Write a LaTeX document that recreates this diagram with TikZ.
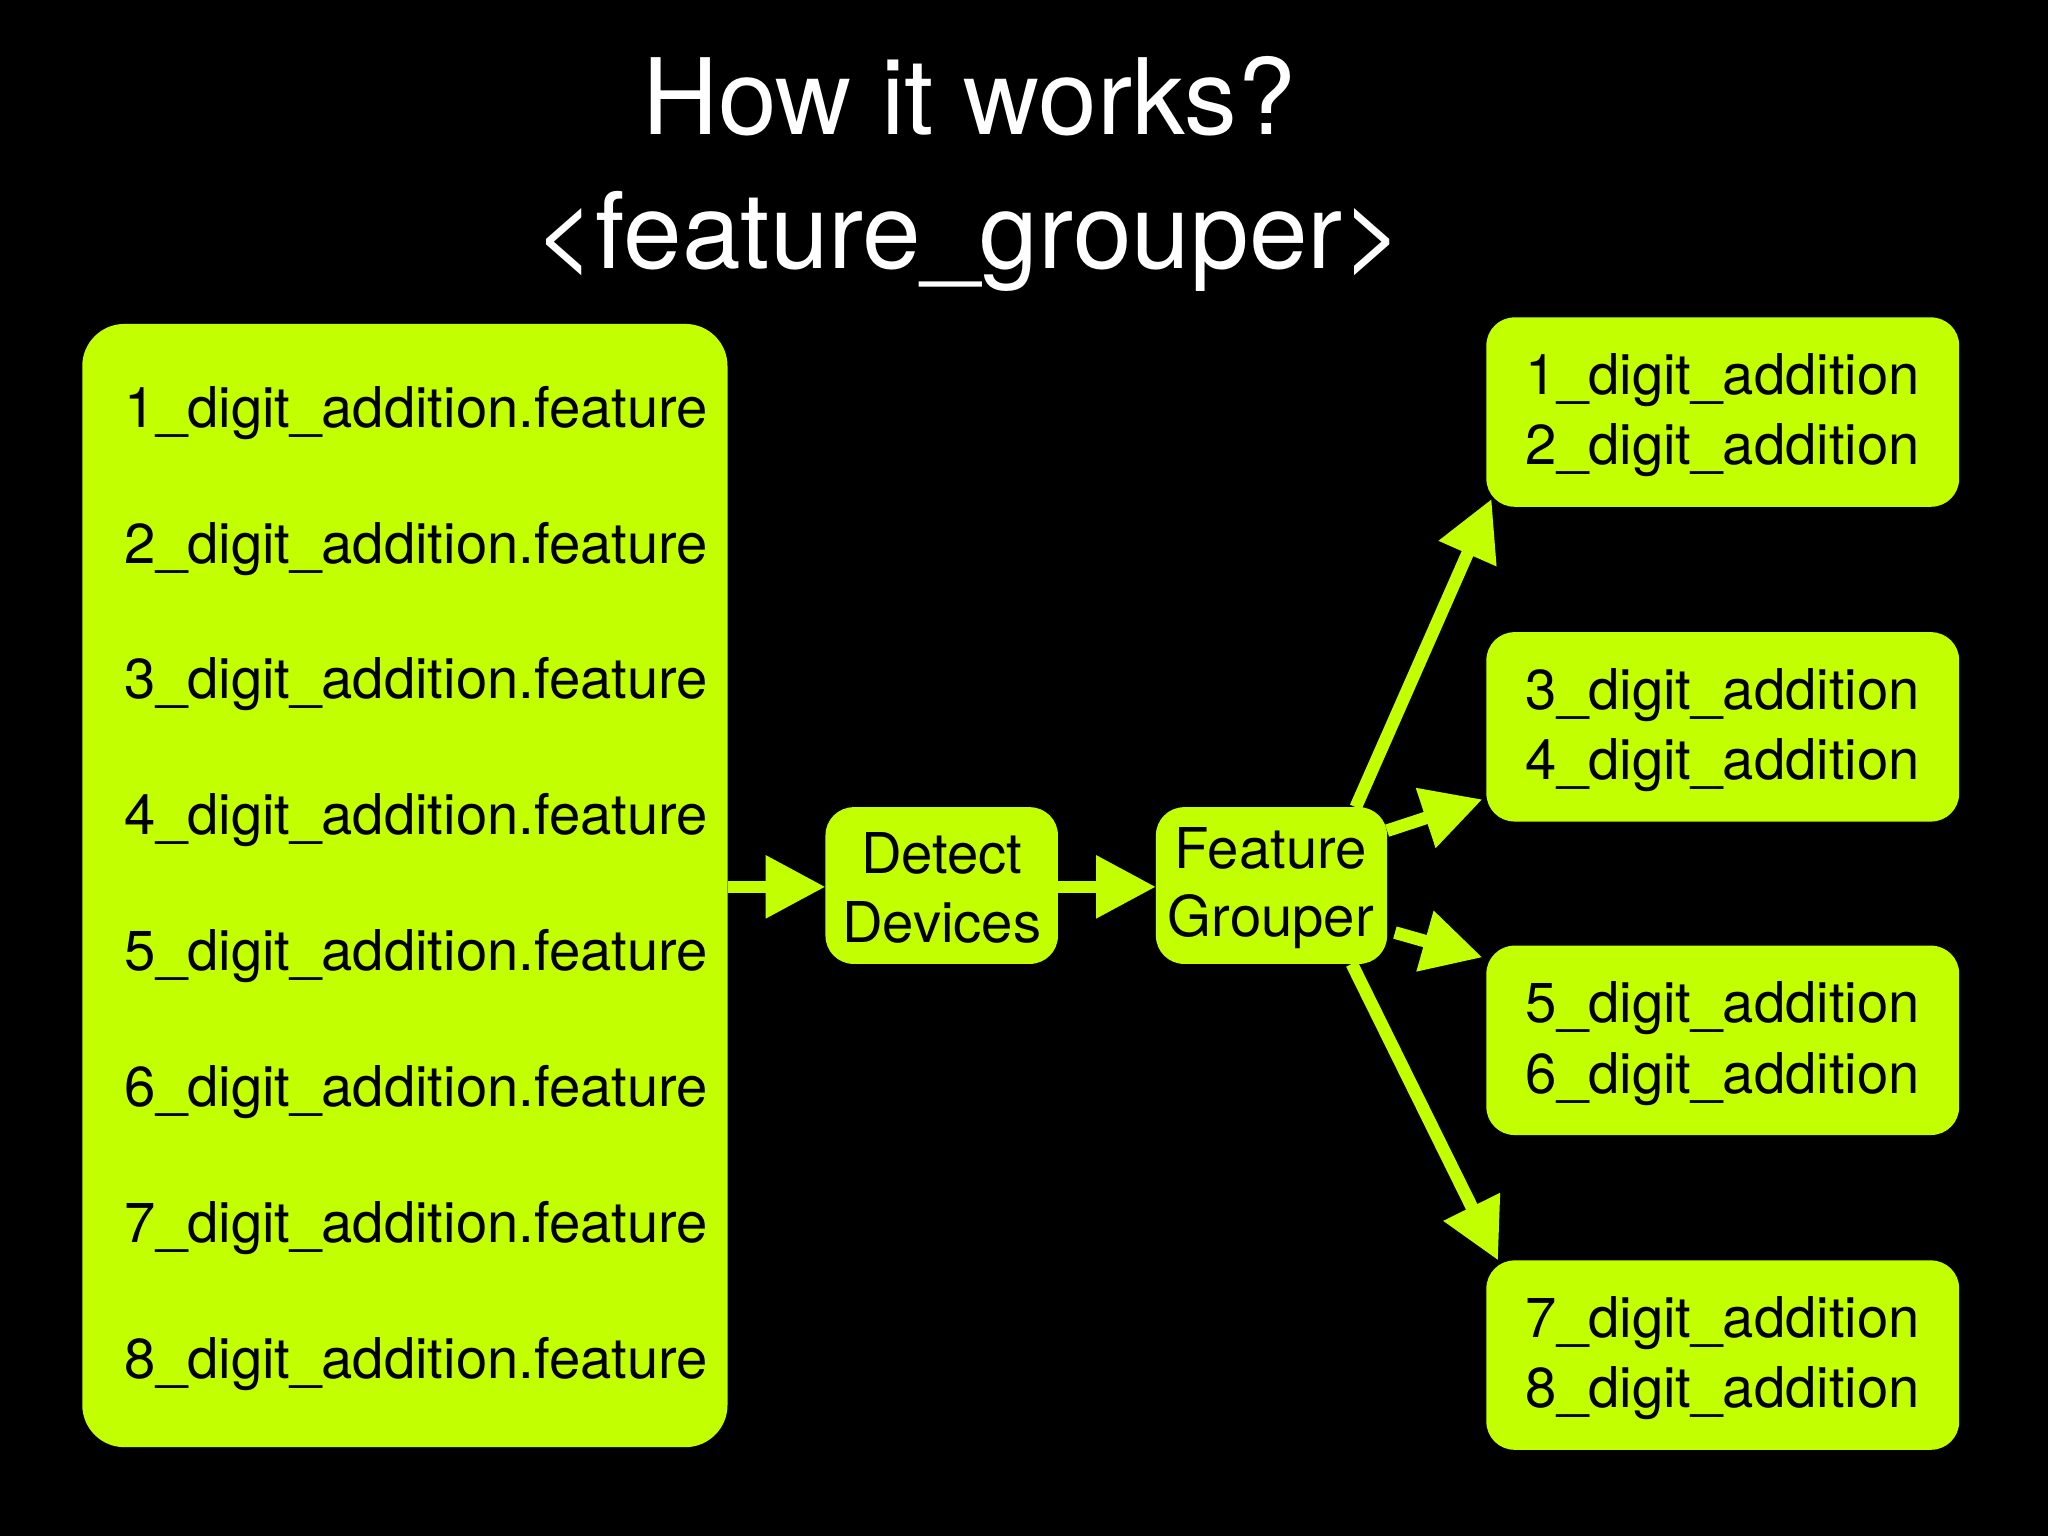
\documentclass[tikz,border=0pt]{standalone}
\usepackage{fontspec}
\setmainfont{TeX Gyre Heros}
\usetikzlibrary{arrows.meta}
\definecolor{lime}{HTML}{C2FF00}
\begin{document}
\begin{tikzpicture}[x=0.013061cm,y=-0.013061cm,
 box/.style={fill=lime,rounded corners=8pt,inner sep=0pt},
 lbl/.style={text=black,font=\fontsize{16}{20}\selectfont,align=center},
 conn/.style={draw=lime,line width=3.6pt,-{Triangle[length=17pt,width=17pt]}}]
\fill[black] (0,0) rectangle (1568,1176);
\useasboundingbox (0,0) rectangle (1568,1176);
\node[text=white,font=\fontsize{30}{38}\selectfont,align=center] (title) at (742,133) {How it works?\\<feature\_grouper>};
\fill[box,rounded corners=12pt] (63,248) rectangle (557,1108);
\coordinate (bigE) at (557,679);
\foreach \i in {1,...,8}{
 \node[lbl,anchor=west] (f\i) at (86,{316+104*(\i-1)}) {\i\_digit\_addition.feature};
}
\fill[box] (632,618) rectangle (810,738);
\node[lbl,font=\fontsize{16}{19.5}\selectfont] (dd) at (721,680) {Detect\\Devices};
\fill[box] (885,618) rectangle (1062,738);
\node[lbl,font=\fontsize{16}{19.5}\selectfont] (fg) at (973,680) {Feature\\Grouper};
\foreach \j/\y in {1/243,2/484,3/724,4/965}{
 \fill[box] (1138,\y) rectangle (1500,\y+145);
}
\node[lbl] (r1) at (1319,318) {1\_digit\_addition\\2\_digit\_addition};
\node[lbl] (r2) at (1319,559) {3\_digit\_addition\\4\_digit\_addition};
\node[lbl] (r3) at (1319,799) {5\_digit\_addition\\6\_digit\_addition};
\node[lbl] (r4) at (1319,1040) {7\_digit\_addition\\8\_digit\_addition};
\coordinate (dW) at (632,679); \coordinate (dE) at (810,679);
\coordinate (gW) at (885,679);
\coordinate (a1) at (1038,618); \coordinate (b1) at (1142,382);
\coordinate (a2) at (1062,636); \coordinate (b2) at (1135,612);
\coordinate (a3) at (1068,714); \coordinate (b3) at (1135,733);
\coordinate (a4) at (1035,738); \coordinate (b4) at (1147,965);
\draw[conn] (bigE) -- (dW);
\draw[conn] (dE) -- (gW);
\draw[conn] (a1) -- (b1);
\draw[conn] (a2) -- (b2);
\draw[conn] (a3) -- (b3);
\draw[conn] (a4) -- (b4);
\end{tikzpicture}
\end{document}
